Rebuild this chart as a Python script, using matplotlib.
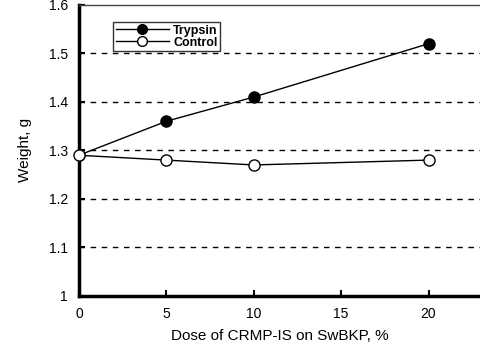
import matplotlib.pyplot as plt

dose = [0, 5, 10, 20]
trypsin = [1.29, 1.36, 1.41, 1.52]
control = [1.29, 1.28, 1.27, 1.28]
y_ticks = [1, 1.1, 1.2, 1.3, 1.4, 1.5, 1.6]
y_tick_labels = ["1", "1.1", "1.2", "1.3", "1.4", "1.5", "1.6"]
x_ticks = [0, 5, 10, 15, 20]

plt.rcParams["font.family"] = ["Liberation Sans", "DejaVu Sans"]

fig = plt.figure(figsize=(4.81, 3.51), dpi=100)
ax = fig.add_axes([0.164, 0.157, 0.836, 0.829])

for y in [1.1, 1.2, 1.3, 1.4, 1.5]:
    ax.axhline(y, color="black", linestyle=(0, (4, 4)), linewidth=1.0, zorder=1)

ax.plot(dose, trypsin, color="black", linewidth=1.0, marker="o", markersize=8,
        markerfacecolor="black", markeredgecolor="black", label="Trypsin", zorder=3)
ax.plot(dose, control, color="black", linewidth=1.0, marker="o", markersize=8,
        markerfacecolor="white", markeredgecolor="black", label="Control", zorder=3,
        clip_on=False)

ax.set_xlim(0, 23)
ax.set_ylim(1, 1.6)
ax.set_xticks(x_ticks)
ax.set_yticks(y_ticks)
ax.set_yticklabels(y_tick_labels)
ax.tick_params(axis="both", direction="in", length=4, width=1.5, labelsize=10, pad=8)

ax.spines["left"].set_linewidth(2.5)
ax.spines["bottom"].set_linewidth(2.5)
ax.spines["top"].set_linewidth(1.0)
ax.spines["top"].set_color("#444444")
ax.spines["right"].set_visible(False)

ax.set_xlabel("Dose of CRMP-IS on SwBKP, %", fontsize=11, labelpad=6)
ax.set_ylabel("Weight, g", fontsize=11, labelpad=12)

leg = ax.legend(loc="upper left", bbox_to_anchor=(0.085, 0.94), frameon=True,
                fancybox=False, edgecolor="black", handlelength=4.3,
                borderpad=0.2, labelspacing=0.0, handletextpad=0.3,
                borderaxespad=0, prop={"weight": "bold", "size": 9})
leg.get_frame().set_linewidth(1.0)
for h in leg.legend_handles:
    h.set_markersize(7)

fig.savefig("out.png", dpi=100)
